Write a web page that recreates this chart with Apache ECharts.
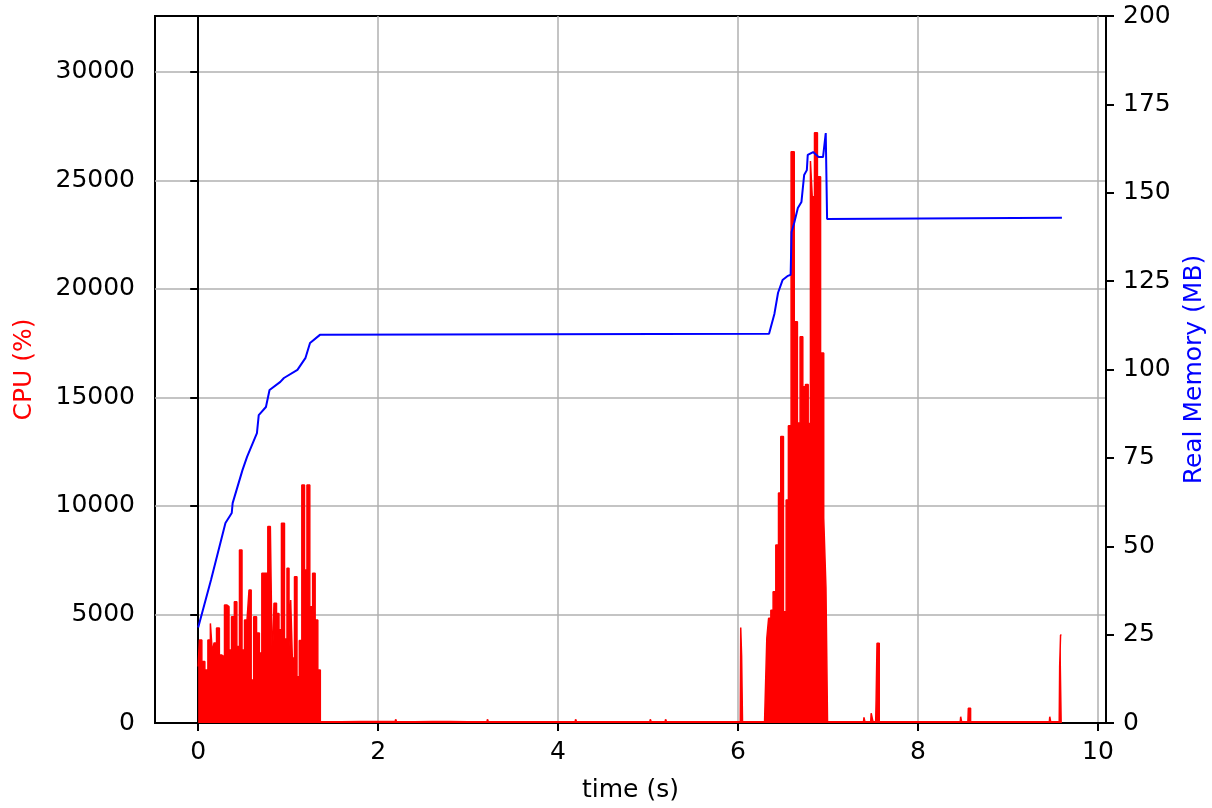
<!DOCTYPE html>
<html>
<head>
    <meta charset="utf-8" />
    <title>CPU / Memory</title>
    <script src="https://cdn.jsdelivr.net/npm/echarts@6/dist/echarts.min.js"></script>
    <style>
        html, body { margin: 0; padding: 0; background: #fff; }
        #chart { width: 1212px; height: 808px; }
    </style>
</head>
<body>
    <div id="chart"></div>
<script>
    // CPU samples (time in s, value in %)
    var cpuTime = [
        0, 0.026, 0.055, 0.093, 0.123, 0.148, 0.167, 0.185, 0.223, 0.248,
        0.278, 0.307, 0.333, 0.352, 0.389, 0.415, 0.444, 0.474, 0.5, 0.53,
        0.556, 0.574, 0.604, 0.63, 0.667, 0.693, 0.722, 0.759, 0.789, 0.815,
        0.833, 0.852, 0.889, 0.907, 0.944, 0.974, 1.0, 1.019, 1.037, 1.056,
        1.085, 1.111, 1.137, 1.167, 1.196, 1.222, 1.259, 1.285, 1.315, 1.344,
        1.371, 1.8, 2.19, 2.2, 2.21, 2.6, 3.0, 3.21, 3.22, 3.23,
        3.29, 3.3, 3.31, 3.8, 4.19, 4.2, 4.21, 4.6, 5.02, 5.03,
        5.04, 5.19, 5.2, 5.21, 5.6, 6.025, 6.035, 6.045, 6.055, 6.255,
        6.265, 6.275, 6.315,
        6.325, 6.355, 6.375, 6.405, 6.435, 6.465, 6.485, 6.525, 6.545, 6.575,
        6.605, 6.645, 6.675, 6.705, 6.735, 6.765, 6.795, 6.815, 6.835, 6.865,
        6.9, 6.935, 6.97, 6.985, 7.005,
        7.2, 7.395, 7.405, 7.415, 7.475, 7.485, 7.495, 7.505, 7.53, 7.54,
        7.55, 7.565, 7.575, 8.0, 8.47, 8.48, 8.49, 8.555, 8.565, 8.58,
        8.59, 9.0, 9.46, 9.47, 9.48, 9.57, 9.58, 9.59, 9.6
    ];
    var cpuValue = [
        2600, 3825, 2830, 2440, 3825, 4590, 3225, 3690, 4380, 3130,
        3050, 5440, 5360, 3360, 4900, 5590, 3520, 7970, 3360, 4750,
        4750, 6130, 1980, 4900, 4150, 3225, 6900, 6900, 9050, 9050,
        2440, 5515, 5050, 4300, 9200, 3870, 7130, 3500, 5670, 3000,
        6740, 2135, 3800, 10970, 7050, 10970, 5360, 6900, 4750, 2440,
        60, 70, 70, 170, 60, 70, 60, 60, 170, 60,
        60, 150, 60, 60, 60, 170, 60, 60, 60, 170,
        60, 60, 170, 60, 60, 60, 4400, 3100, 60, 60,
        150, 60, 60,
        3900, 4825, 5200, 6050, 8200, 10600, 13200, 5130, 10280, 13700,
        26330, 18490, 13830, 17800, 15500, 15600, 13800, 25900, 24250, 27200,
        25170, 17050, 9450, 6220, 60,
        60, 60, 260, 60, 60, 450, 450, 60, 60, 1060,
        3670, 3670, 60, 60, 60, 290, 60, 60, 680, 680,
        60, 60, 60, 290, 60, 60, 2600, 4055, 4055
    ];

    // real memory samples (time in s, MB)
    var memTime = [
        0, 0.143, 0.303, 0.373, 0.383, 0.493, 0.543, 0.653, 0.673, 0.753,
        0.793, 0.913, 0.953, 1.103, 1.193, 1.243, 1.353, 6.345, 6.405, 6.445,
        6.495, 6.555, 6.585, 6.595, 6.625, 6.665, 6.705, 6.735, 6.765, 6.775,
        6.835, 6.895, 6.945, 6.975, 6.985, 6.99, 9.6
    ];
    var memValue = [
        27, 40.5, 56.6, 59.4, 62.2, 71.6, 75.3, 82, 87.1, 89.4,
        94.2, 96.5, 97.6, 99.9, 103.3, 107.5, 109.8, 110.1, 115.8, 121.7,
        125.3, 126.5, 126.8, 138.9, 141.5, 145.7, 147.4, 155, 156.4, 160.7,
        161.5, 160.1, 160.1, 166.9, 166.9, 142.6, 142.9
    ];

    var timeTicks = [0, 2, 4, 6, 8, 10];
    var cpuTicks = [0, 5000, 10000, 15000, 20000, 25000, 30000];
    var memTicks = [0, 25, 50, 75, 100, 125, 150, 175, 200];

    var cpuData = cpuTime.map(function (t, i) { return [t, cpuValue[i]]; });
    var memData = memTime.map(function (t, i) { return [t, memValue[i]]; });

    var font = 'DejaVu Sans';
    var plain = function (v) { return String(v); };
    var chart = echarts.init(document.getElementById('chart'));

    var option = {
        animation: false,
        backgroundColor: '#fff',
        textStyle: { fontFamily: font },
        grid: {
            left: 155, right: 106, top: 16, bottom: 85,
            show: true, borderColor: '#000', borderWidth: 2,
            containLabel: false,
            outerBoundsMode: 'none'
        },
        xAxis: {
            type: 'value',
            min: -0.48,
            max: 10.09,
            splitNumber: 5,
            name: 'time (s)',
            nameLocation: 'middle',
            nameGap: 55,
            nameTextStyle: { color: '#000', fontSize: 25, fontFamily: font },
            axisLine: { lineStyle: { color: '#000', width: 2 } },
            axisTick: { customValues: timeTicks, length: 8, lineStyle: { color: '#000', width: 2 } },
            axisLabel: { customValues: timeTicks, formatter: plain, margin: 17, color: '#000', fontSize: 25, fontFamily: font },
            splitLine: { show: true, lineStyle: { color: '#b0b0b0', width: 1.5 } }
        },
        yAxis: [
            {
                type: 'value',
                min: 0,
                max: 32580,
                interval: 5000,
                name: 'CPU (%)',
                nameLocation: 'middle',
                nameGap: 118,
                nameTextStyle: { color: '#ff0000', fontSize: 25, fontFamily: font },
                axisLine: { show: true, lineStyle: { color: '#000', width: 2 } },
                axisTick: { show: true, customValues: cpuTicks, length: 8, lineStyle: { color: '#000', width: 2 } },
                axisLabel: { customValues: cpuTicks, formatter: plain, margin: 20, color: '#000', fontSize: 25, fontFamily: font },
                splitLine: { show: true, lineStyle: { color: '#b0b0b0', width: 1.5 } }
            },
            {
                type: 'value',
                min: 0,
                max: 200,
                interval: 25,
                position: 'right',
                name: 'Real Memory (MB)',
                nameLocation: 'middle',
                nameGap: 76,
                nameTextStyle: { color: '#0000ff', fontSize: 25, fontFamily: font },
                axisLine: { show: true, lineStyle: { color: '#000', width: 2 } },
                axisTick: { show: true, customValues: memTicks, length: 8, lineStyle: { color: '#000', width: 2 } },
                axisLabel: { customValues: memTicks, formatter: plain, margin: 17, color: '#000', fontSize: 25, fontFamily: font },
                splitLine: { show: false }
            }
        ],
        series: [
            {
                name: 'CPU',
                type: 'line',
                yAxisIndex: 0,
                step: 'middle',
                showSymbol: false,
                data: cpuData,
                lineStyle: { color: '#ff0000', width: 1.5 },
                areaStyle: { color: '#ff0000', opacity: 1 },
                z: 2
            },
            {
                name: 'Real Memory',
                type: 'line',
                yAxisIndex: 1,
                showSymbol: false,
                data: memData,
                lineStyle: { color: '#0000ff', width: 2 },
                z: 3
            }
        ]
    };

    chart.setOption(option);
</script>
</body>
</html>
